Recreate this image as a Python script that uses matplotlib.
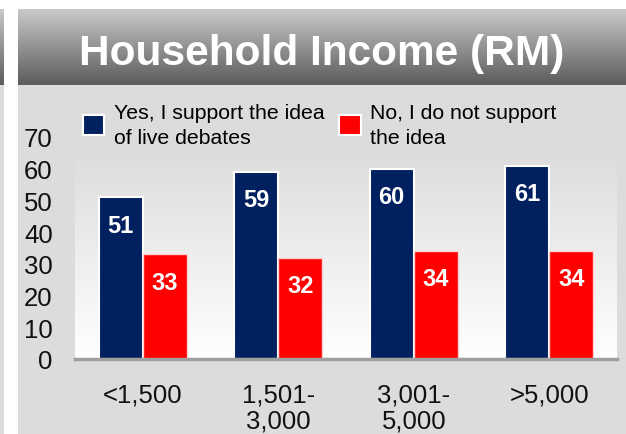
import numpy as np
import matplotlib
matplotlib.use("Agg")
from matplotlib import pyplot as plt
from matplotlib.patches import Rectangle, Patch

plt.rcParams['font.family'] = ['Liberation Sans', 'DejaVu Sans']

categories = ['<1,500', '1,501-\n3,000', '3,001-\n5,000', '>5,000']
yes_vals = [51, 59, 60, 61]
no_vals = [33, 32, 34, 34]
yes_label = 'Yes, I support the idea\nof live debates'
no_label = 'No, I do not support\nthe idea'
title = 'Household Income (RM)'

navy = '#002060'
red = '#ff0000'

W, H = 626, 435
fig = plt.figure(figsize=(W / 100, H / 100), dpi=100)
fig.patch.set_facecolor('white')

def fx(px):
    return px / W

def fy(py):
    return 1 - py / H

# grey panel behind chart + thin left strip
fig.patches.append(Rectangle((fx(18), 0), 1 - fx(18), fy(85), transform=fig.transFigure,
                             facecolor='#dcdcdc', edgecolor='none', zorder=-5))
fig.patches.append(Rectangle((0, 0), fx(4), fy(85), transform=fig.transFigure,
                             facecolor='#dcdcdc', edgecolor='none', zorder=-5))

# title banner gradient
grad = np.linspace(0, 1, 100).reshape(-1, 1)
banner_cmap = matplotlib.colors.LinearSegmentedColormap.from_list('b', ['#c9c9c9', '#5c5c5c'])
for left, right in [(0, 4), (18, 626)]:
    bax = fig.add_axes([fx(left), fy(86), fx(right - left), (86 - 10) / H])
    bax.imshow(grad, aspect='auto', cmap=banner_cmap, extent=[0, 1, 0, 1])
    bax.set_axis_off()
fig.text(fx(322), fy(65), title, ha='center', va='baseline', color='white',
         fontsize=30.5, fontweight='bold')

# main axes
ax = fig.add_axes([fx(75), fy(360), fx(617 - 75), (360 - 138) / H])
ax.set_facecolor('none')
x = np.arange(len(categories))
w = 0.325

bg_cmap = matplotlib.colors.LinearSegmentedColormap.from_list('g', ['#ffffff', '#dcdcdc'])
ax.imshow(np.linspace(0, 1, 100).reshape(-1, 1), aspect='auto', cmap=bg_cmap, origin='lower',
          extent=[-0.5, len(categories) - 0.5, 0, 66], zorder=0)
ax.set_xlim(-0.5, len(categories) - 0.5)
ax.set_ylim(0, 70)

b1 = ax.bar(x - w / 2, yes_vals, w, color=navy, edgecolor='white', linewidth=1.5, zorder=2)
b2 = ax.bar(x + w / 2, no_vals, w, color=red, edgecolor='#ffd0d0', linewidth=1.0, zorder=2)

for bars in (b1, b2):
    for rect in bars:
        v = rect.get_height()
        ax.annotate(f'{v:g}', (rect.get_x() + rect.get_width() / 2, v),
                    xytext=(0, -20), textcoords='offset points', ha='center', va='center',
                    color='white', fontsize=17, fontweight='bold', zorder=3)

for s in ['top', 'right', 'left']:
    ax.spines[s].set_visible(False)
ax.spines['bottom'].set_color('#a0a0a0')
ax.spines['bottom'].set_linewidth(2.5)
ax.spines['bottom'].set_zorder(4)

ax.set_yticks(range(0, 71, 10))
ax.set_xticks(x)
ax.set_xticklabels(categories, linespacing=1.1)
ax.tick_params(axis='y', length=0, pad=16, labelsize=18.5, labelcolor='#111111')
ax.tick_params(axis='x', length=0, pad=17, labelsize=18.5, labelcolor='#111111')

handles = [Patch(facecolor=navy, edgecolor='white', linewidth=1.5),
           Patch(facecolor=red, edgecolor='white', linewidth=1.5)]
leg = fig.legend(handles, [yes_label, no_label], ncol=2, frameon=False, fontsize=15.3,
                 loc='center left', bbox_to_anchor=(fx(83), fy(126)), borderpad=0,
                 borderaxespad=0, handlelength=1.0, handleheight=1.1, handletextpad=0.45,
                 columnspacing=0.7, labelspacing=0.2)
for t in leg.get_texts():
    t.set_linespacing(1.35)

plt.savefig('out.png', dpi=100)
